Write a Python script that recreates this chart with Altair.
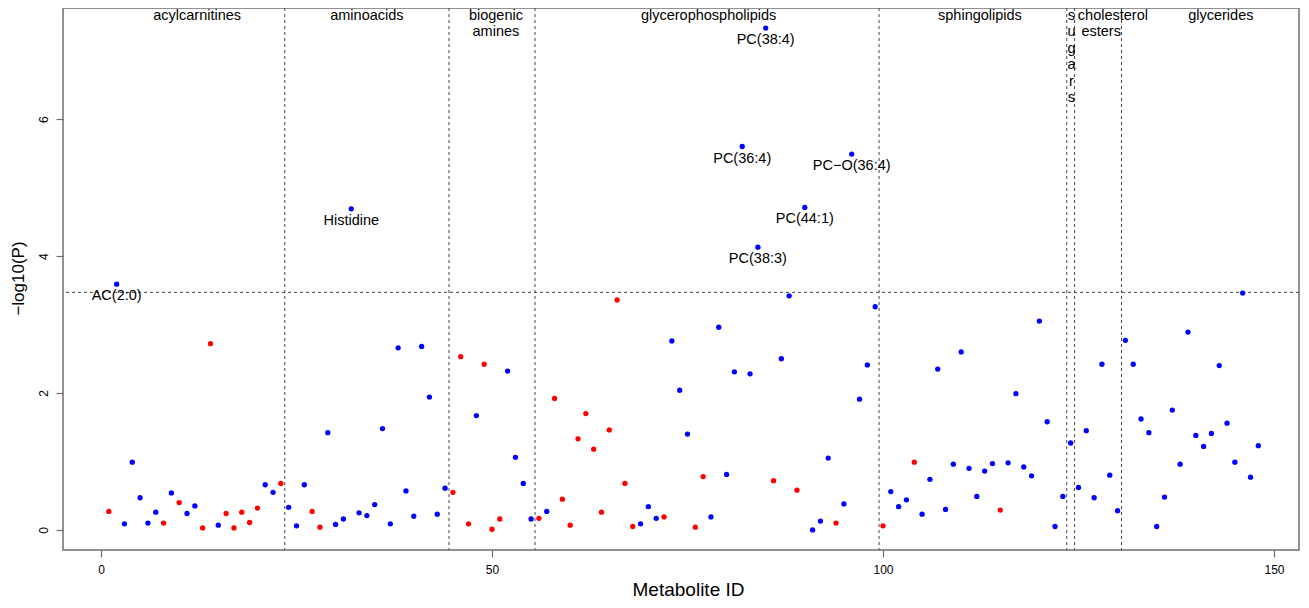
import altair as alt
import pandas as pd

# ---- data ----
metabolite_id = list(range(1, 149))
neg_log10_p = [
    0.27, 3.59, 0.09, 0.99, 0.47, 0.10, 0.26, 0.10, 0.54, 0.40,
    0.24, 0.35, 0.03, 2.72, 0.07, 0.24, 0.03, 0.26, 0.11, 0.32,
    0.66, 0.55, 0.68, 0.33, 0.06, 0.66, 0.27, 0.04, 1.42, 0.08,
    0.16, 4.69, 0.25, 0.21, 0.37, 1.48, 0.09, 2.66, 0.57, 0.20,
    2.68, 1.94, 0.23, 0.61, 0.55, 2.53, 0.09, 1.67, 2.42, 0.01,
    0.16, 2.32, 1.06, 0.68, 0.16, 0.17, 0.27, 1.92, 0.45, 0.07,
    1.33, 1.70, 1.18, 0.26, 1.46, 3.36, 0.68, 0.05, 0.09, 0.34,
    0.17, 0.19, 2.76, 2.04, 1.40, 0.04, 0.78, 0.19, 2.96, 0.81,
    2.31, 5.60, 2.28, 4.13, 7.33, 0.72, 2.50, 3.42, 0.58, 4.71,
    0.00, 0.13, 1.05, 0.10, 0.38, 5.49, 1.91, 2.41, 3.26, 0.06,
    0.56, 0.34, 0.44, 0.99, 0.23, 0.74, 2.35, 0.30, 0.96, 2.60,
    0.90, 0.49, 0.86, 0.97, 0.29, 0.98, 1.99, 0.92, 0.79, 3.05,
    1.58, 0.05, 0.49, 1.27, 0.62, 1.45, 0.47, 2.42, 0.80, 0.28,
    2.77, 2.42, 1.62, 1.42, 0.05, 0.48, 1.75, 0.96, 2.89, 1.38,
    1.22, 1.41, 2.40, 1.56, 0.99, 3.46, 0.77, 1.23,
]
direction = list(
    "rbbbbbbrbr" "bbrrbrrrrr" "bbrbbbrrbb" "bbbbbbbbbb"
    "bbbbrrrbrr" "rbbbbrbrrr" "rrrrrrrrbb" "brbbbrrbbb"
    "bbbbbrbbrb" "bbbrbbbbbr" "bbbrbbbbbb" "bbbbrbbbbb"
    "bbbbbbbbbb" "bbbbbbbbbb" "bbbbbbbb"
)

label_names = ["AC(2:0)", "Histidine", "PC(36:4)", "PC(38:3)", "PC(38:4)", "PC(44:1)", "PC\u2212O(36:4)"]
label_ids = [2, 32, 82, 84, 85, 90, 96]

class_names = ["acylcarnitines", "aminoacids", "biogenic\namines", "glycerophospholipids",
               "sphingolipids", "s\nu\ng\na\nr\ns", "cholesterol", "\nesters", "glycerides"]
class_label_x = [12.3, 34.0, 50.5, 77.7, 112.4, 124.1, 129.4, 127.9, 143.2]
class_bounds = [23.5, 44.5, 55.5, 99.5, 123.5, 124.5, 130.5]
threshold = [3.47]
x_ticks = [0, 50, 100, 150]
y_ticks = [0, 2, 4, 6]

# ---- tables ----
pts = pd.DataFrame({"id": metabolite_id, "p": neg_log10_p, "dir": direction})
labs = pd.DataFrame({
    "id": label_ids,
    "p": [neg_log10_p[i - 1] for i in label_ids],
    "name": label_names,
})
cls = pd.DataFrame({"x": class_label_x, "name": class_names})
bnd = pd.DataFrame({"b": class_bounds})
thr = pd.DataFrame({"t": threshold})

FONT = "Liberation Sans"
FRAME = "#6e6e6e"
DASH = "#444444"

xs = alt.Scale(domain=[-4.86, 153.2], nice=False, zero=False)
ys = alt.Scale(domain=[-0.293, 7.623], nice=False, zero=False)

x_axis = alt.Axis(
    values=x_ticks, format="d", title="Metabolite ID", grid=False, domain=False,
    tickSize=7, tickColor=FRAME, tickWidth=1.2, labelFontSize=12, labelColor="#000",
    labelPadding=7, labelFlush=False, labelOverlap=False, labelFont=FONT,
    titleFont=FONT, titleFontSize=19, titleFontWeight="normal", titleColor="#000",
    titleX=625, titleY=45, titleAlign="center", titleBaseline="alphabetic",
)
y_axis = alt.Axis(
    values=y_ticks, format="d", title="\u2212log10(P)", grid=False, domain=False,
    tickSize=7, tickColor=FRAME, tickWidth=1.2, labelFontSize=12, labelColor="#000",
    labelAngle=270, labelAlign="center", labelBaseline="alphabetic", labelPadding=9,
    labelFont=FONT, labelOverlap=False,
    titleFont=FONT, titleFontSize=17, titleFontWeight="normal", titleColor="#000",
    titleAngle=270, titleX=-44.5, titleY=270, titleAlign="center", titleBaseline="middle",
)

vrules = alt.Chart(bnd).mark_rule(color=DASH, strokeDash=[3, 3], strokeWidth=1).encode(
    x=alt.X("b:Q", scale=xs, axis=x_axis)
)
hrule = alt.Chart(thr).mark_rule(color=DASH, strokeDash=[3, 3], strokeWidth=1).encode(
    y=alt.Y("t:Q", scale=ys, axis=y_axis)
)
points = alt.Chart(pts).mark_circle(size=28, opacity=1).encode(
    x=alt.X("id:Q", scale=xs, axis=x_axis),
    y=alt.Y("p:Q", scale=ys, axis=y_axis),
    color=alt.Color("dir:N", scale=alt.Scale(domain=["r", "b"], range=["#ff0000", "#0000ff"]), legend=None),
)
class_text = alt.Chart(cls).mark_text(
    font=FONT, fontSize=14.5, color="#000", align="center", baseline="alphabetic",
    lineBreak="\n", lineHeight=16.5,
).encode(
    x=alt.X("x:Q", scale=xs, axis=x_axis),
    y=alt.value(11.5),
    text="name:N",
)
label_text = alt.Chart(labs).mark_text(
    font=FONT, fontSize=14.5, color="#000", align="center", baseline="alphabetic", dy=16,
).encode(
    x=alt.X("id:Q", scale=xs, axis=x_axis),
    y=alt.Y("p:Q", scale=ys, axis=y_axis),
    text="name:N",
)

chart = alt.layer(vrules, hrule, points, class_text, label_text).properties(
    width=1236,
    height=542,
    autosize=alt.AutoSizeParams(type="none"),
    padding={"left": 55, "top": 0, "right": 2, "bottom": 50},
).configure(font=FONT).configure_view(stroke=FRAME, strokeWidth=1.5)

chart.save("out.html", embed_options={"renderer": "svg", "actions": False})
